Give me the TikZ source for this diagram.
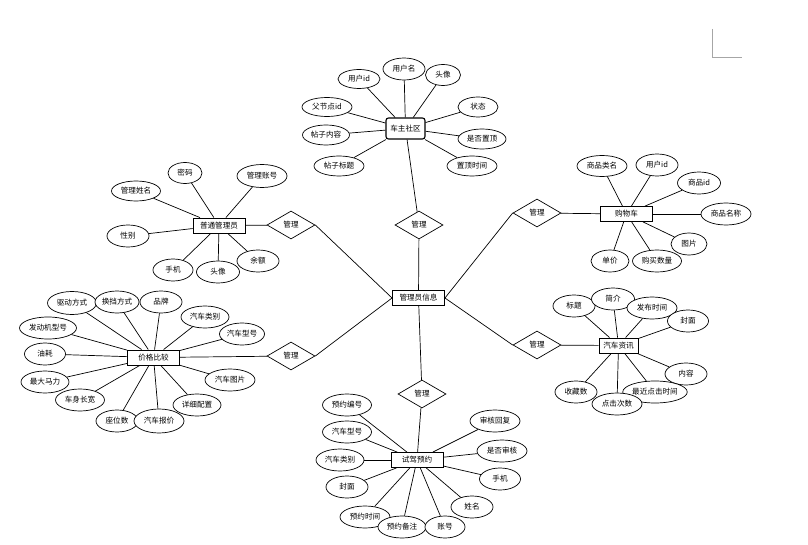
\documentclass[tikz,border=0pt]{standalone}
\usepackage{fontspec}
\newfontfamily\cjk{Noto Sans CJK SC}
\usetikzlibrary{shapes.geometric}
\begin{document}
\begin{tikzpicture}[x=1pt,y=-1pt,
  every node/.style={font=\cjk\fontsize{7.6}{8}\selectfont},
  attr/.style={ellipse, draw, fill=white, inner sep=0pt, minimum height=22pt, line width=0.7pt},
  ent/.style={rectangle, draw, fill=white, inner sep=0pt, minimum width=52pt, minimum height=15pt, line width=0.9pt},
  rel/.style={diamond, draw, fill=white, inner sep=0pt, minimum width=48pt, minimum height=28pt, line width=0.7pt},
  conn/.style={line width=0.7pt}]
\useasboundingbox (0,0) rectangle (808,545);
\fill[white] (0,0) rectangle (808,545);
% page corner mark
\draw[gray!70, line width=0.8pt] (712,29) -- (712,57) -- (742,57);

% central entity and relations
\node[ent] (admin) at (418.5,298) {管理员信息};
\node[rel] (rT) at (419,225) {管理};
\node[rel] (rLU) at (291,225) {管理};
\node[rel] (rLL) at (291,356) {管理};
\node[rel] (rRU) at (537,213) {管理};
\node[rel] (rRL) at (537,345) {管理};
\node[rel] (rB) at (422,394) {管理};

% entities
\node[ent, rounded corners=2.5pt, minimum width=39pt, minimum height=21pt, line width=1.1pt] (club) at (405.5,128.5) {车主社区};
\node[ent] (user) at (219,225.5) {普通管理员};
\node[ent] (cart) at (626.5,214) {购物车};
\node[ent] (price) at (153.5,357.5) {价格比较};
\node[ent, minimum width=39pt] (news) at (618.5,345.5) {汽车资讯};
\node[ent] (drive) at (417,460) {试驾预约};

% connections central
\draw[conn] (admin) -- (rT);
\draw[conn] (rT) -- (club);
\draw[conn] (rLU.east) -- (admin.west);
\draw[conn] (rLL.east) -- (admin.west);
\draw[conn] (admin.east) -- (rRU.west);
\draw[conn] (admin.east) -- (rRL.west);
\draw[conn] (admin) -- (rB);
\draw[conn] (rLU) -- (user);
\draw[conn] (rLL) -- (price);
\draw[conn] (rRU) -- (cart);
\draw[conn] (rRL) -- (news);
\draw[conn] (rB) -- (drive);

% 车主社区 attributes
\node[attr, minimum width=42pt, minimum height=19pt] (c1) at (359,79) {用户id};
\node[attr, minimum width=42pt] (c2) at (404,69) {用户名};
\node[attr, minimum width=35pt, minimum height=21pt] (c3) at (443,75) {头像};
\node[attr, minimum width=50pt, minimum height=19pt] (c4) at (327,107) {父节点id};
\node[attr, minimum width=40pt, minimum height=20pt] (c5) at (478,107) {状态};
\node[attr, minimum width=47pt, minimum height=20pt] (c6) at (326,135) {帖子内容};
\node[attr, minimum width=48pt, minimum height=20pt] (c7) at (482,139) {是否置顶};
\node[attr, minimum width=50pt, minimum height=20pt] (c8) at (339,166) {帖子标题};
\node[attr, minimum width=50pt, minimum height=20pt] (c9) at (472,166) {置顶时间};
\foreach \a in {c1,c2,c3,c4,c5,c6,c7,c8,c9} \draw[conn] (\a) -- (club);

% 普通管理员 attributes
\node[attr, minimum width=49pt, minimum height=20pt] (u1) at (136,191) {管理姓名};
\node[attr, minimum width=34pt, minimum height=21pt] (u2) at (185,173) {密码};
\node[attr, minimum width=50pt, minimum height=23pt] (u3) at (262,176) {管理账号};
\node[attr, minimum width=42pt] (u4) at (128,236) {性别};
\node[attr, minimum width=40pt] (u5) at (173,270) {手机};
\node[attr, minimum width=43pt] (u6) at (218,272) {头像};
\node[attr, minimum width=42pt] (u7) at (258,261) {余额};
\foreach \a in {u1,u2,u3,u4,u5,u6,u7} \draw[conn] (\a) -- (user);

% 购物车 attributes
\node[attr, minimum width=50pt, minimum height=21pt] (k1) at (602,166) {商品类名};
\node[attr, minimum width=42pt] (k2) at (657,165) {用户id};
\node[attr, minimum width=43pt] (k3) at (699,183) {商品id};
\node[attr, minimum width=50pt] (k4) at (726,214) {商品名称};
\node[attr, minimum width=36pt] (k5) at (689,244) {图片};
\node[attr, minimum width=38pt] (k6) at (610,261) {单价};
\node[attr, minimum width=49pt] (k7) at (657,261) {购买数量};
\foreach \a in {k1,k2,k3,k4,k5,k6,k7} \draw[conn] (\a) -- (cart);

% 价格比较 attributes
\node[attr, minimum width=49pt, minimum height=23pt] (p1) at (72,303) {驱动方式};
\node[attr, minimum width=44pt] (p2) at (117,302) {换挡方式};
\node[attr, minimum width=42pt] (p3) at (161,302) {品牌};
\node[attr, minimum width=48pt] (p4) at (205,317) {汽车类别};
\node[attr, minimum width=45pt] (p5) at (242,334) {汽车型号};
\node[attr, minimum width=57pt] (p6) at (48,328) {发动机型号};
\node[attr, minimum width=41pt] (p7) at (45,354) {油耗};
\node[attr, minimum width=48pt] (p8) at (45,382) {最大马力};
\node[attr, minimum width=49pt] (p9) at (80,400) {车身长宽};
\node[attr, minimum width=42pt] (p10) at (117,421) {座位数};
\node[attr, minimum width=50pt, minimum height=24pt] (p11) at (159,421) {汽车报价};
\node[attr, minimum width=48pt] (p12) at (197,405) {详细配置};
\node[attr, minimum width=50pt] (p13) at (230,380) {汽车图片};
\foreach \a in {p1,p2,p3,p4,p5,p6,p7,p8,p9,p10,p11,p12,p13} \draw[conn] (\a) -- (price);

% 汽车资讯 attributes
\node[attr, minimum width=42pt] (n1) at (574,306) {标题};
\node[attr, minimum width=43pt] (n2) at (613,299) {简介};
\node[attr, minimum width=50pt] (n3) at (652,308) {发布时间};
\node[attr, minimum width=41pt] (n4) at (688,321) {封面};
\node[attr, minimum width=42pt] (n5) at (686,374) {内容};
\node[attr, minimum width=42pt] (n6) at (576,392) {收藏数};
\node[attr, minimum width=64pt] (n7) at (655,392) {最近点击时间};
\node[attr, minimum width=50pt] (n8) at (617,404) {点击次数};
\foreach \a in {n1,n2,n3,n4,n5,n6,n7,n8} \draw[conn] (\a) -- (news);

% 试驾预约 attributes
\node[attr, minimum width=49pt] (d1) at (347,405) {预约编号};
\node[attr, minimum width=49pt] (d2) at (347,432) {汽车型号};
\node[attr, minimum width=48pt] (d3) at (340,460) {汽车类别};
\node[attr, minimum width=42pt] (d4) at (347,487) {封面};
\node[attr, minimum width=50pt] (d5) at (365,517) {预约时间};
\node[attr, minimum width=48pt] (d6) at (402,527) {预约备注};
\node[attr, minimum width=40pt] (d7) at (445,527) {账号};
\node[attr, minimum width=42pt] (d8) at (472,507) {姓名};
\node[attr, minimum width=41pt] (d9) at (500,479) {手机};
\node[attr, minimum width=50pt] (d10) at (502,451) {是否审核};
\node[attr, minimum width=50pt] (d11) at (495,421) {审核回复};
\foreach \a in {d1,d2,d3,d4,d5,d6,d7,d8,d9,d10,d11} \draw[conn] (\a) -- (drive);
\end{tikzpicture}
\end{document}
